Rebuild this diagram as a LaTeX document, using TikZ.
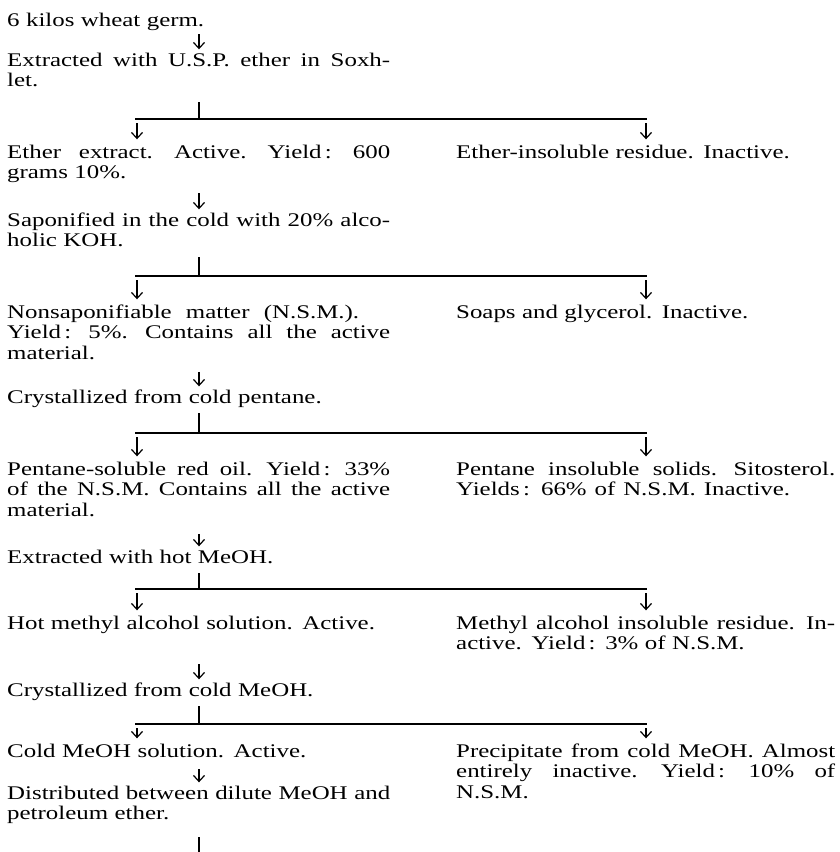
\documentclass[tikz,border=0pt]{standalone}
\usepackage{fontspec}
\setmainfont{Liberation Serif}[FakeStretch=1.29]
\usetikzlibrary{arrows.meta}

% full (justified) line of a column
\newcommand{\fl}[2][383pt]{\makebox[#1][s]{\spaceskip=.3333em plus 1fil
  \xspaceskip=.5em plus 1fil\relax #2}}

\tikzset{
  txt/.style  = {anchor=base west, inner sep=0pt, align=left,
                 execute at begin node=\strut, execute at end node=\strut},
  lcol/.style = {txt, text width=383pt},
  rcol/.style = {txt, text width=379pt},
  bar/.style  = {line width=1.2pt},
  tick/.style = {bar, shorten <=4pt},
  arr/.style  = {line width=1.2pt, -{Straight Barb[length=6pt,width=11pt]},
                 shorten <=8pt, shorten >=2pt},
  branch/.style = {arr, shorten <=4pt, shorten >=4pt},
}

\begin{document}
\begin{tikzpicture}[x=1pt, y=-1pt, font=\fontsize{19.3}{20.7}\selectfont]
  \useasboundingbox (0,0) rectangle (840,852);

  \coordinate (cx) at (199,0);
  \coordinate (lx) at (137,0);
  \coordinate (rx) at (646,0);

  % left column
  \node[lcol] (germ) at (7,26)  {\fl[194pt]{6 kilos wheat germ.}};
  \node[lcol] (ext)  at (7,66)  {\fl{Extracted with U.S.P. ether in Soxh-}\\let.};
  \node[lcol] (eth)  at (7,158) {\fl{Ether extract. Active. Yield\,: 600}\\grams 10\%.};
  \node[lcol] (sap)  at (7,226) {\fl{Saponified in the cold with 20\% alco-}\\holic KOH.};
  \node[lcol] (nsm)  at (7,318) {\fl[352pt]{Nonsaponifiable matter (N.S.M.).}\\
                                 \fl{Yield\,: 5\%. Contains all the active}\\material.};
  \node[lcol] (pent) at (7,403) {Crystallized from cold pentane.};
  \node[lcol] (red)  at (7,475) {\fl{Pentane-soluble red oil. Yield\,: 33\%}\\
                                 \fl{of the N.S.M. Contains all the active}\\material.};
  \node[lcol] (hot)  at (7,563) {Extracted with hot MeOH.};
  \node[lcol] (hsol) at (7,629) {Hot methyl alcohol solution. Active.};
  \node[lcol] (cold) at (7,696) {Crystallized from cold MeOH.};
  \node[lcol] (csol) at (7,757) {Cold MeOH solution. Active.};
  \node[lcol] (dist) at (7,799) {\fl{Distributed between dilute MeOH and}\\petroleum ether.};

  % right column
  \node[rcol] (insol) at (456,158) {Ether-insoluble residue. Inactive.};
  \node[rcol] (soap)  at (456,318) {Soaps and glycerol. Inactive.};
  \node[rcol] (sito)  at (456,475) {\fl[379pt]{Pentane insoluble solids. Sitosterol.}\\
                                    \fl[334pt]{Yields\,: 66\% of N.S.M. Inactive.}};
  \node[rcol] (mres)  at (456,629) {\fl[379pt]{Methyl alcohol insoluble residue. In-}\\
                                    active. Yield\,: 3\% of N.S.M.};
  \node[rcol] (prec)  at (456,757) {\fl[379pt]{Precipitate from cold MeOH. Almost}\\
                                    \fl[379pt]{entirely inactive. Yield\,: 10\% of}\\N.S.M.};

  % forks
  \coordinate (f1) at (199,119);
  \coordinate (f2) at (199,276);
  \coordinate (f3) at (199,433);
  \coordinate (f4) at (199,589);
  \coordinate (f5) at (199,724);
  \coordinate (cut) at (199,852);

  % straight arrows
  \draw[arr, shorten <=2pt] (germ.south -| cx) -- (ext.north -| cx);
  \draw[arr] (eth.south -| cx) -- (sap.north -| cx);
  \draw[arr, shorten <=6pt] (nsm.south -| cx) -- (pent.north -| cx);
  \draw[arr, shorten <=11pt] (red.south -| cx) -- (hot.north -| cx);
  \draw[arr, shorten <=29pt] (hsol.south -| cx) -- (cold.north -| cx);
  \draw[arr, shorten <=6pt] (csol.south -| cx) -- (dist.north -| cx);

  % ticks and bars
  \draw[tick, shorten <=9pt] (ext.south -| cx) -- (f1);
  \draw[tick] (sap.south -| cx) -- (f2);
  \draw[tick] (pent.south -| cx) -- (f3);
  \draw[tick] (hot.south -| cx) -- (f4);
  \draw[tick] (cold.south -| cx) -- (f5);
  \draw[tick, shorten <=11pt] (dist.south -| cx) -- (cut);
  \foreach \f in {f1,f2,f3,f4,f5}
    \draw[bar] ([xshift=-2pt]\f -| lx) -- ([xshift=1pt]\f -| rx);

  % branch arrows
  \draw[branch] (f1 -| lx) -- (eth.north -| lx);
  \draw[branch] (f1 -| rx) -- (insol.north -| rx);
  \draw[branch] (f2 -| lx) -- (nsm.north -| lx);
  \draw[branch] (f2 -| rx) -- (soap.north -| rx);
  \draw[branch] (f3 -| lx) -- (red.north -| lx);
  \draw[branch] (f3 -| rx) -- (sito.north -| rx);
  \draw[branch] (f4 -| lx) -- (hsol.north -| lx);
  \draw[branch] (f4 -| rx) -- (mres.north -| rx);
  \draw[branch] (f5 -| lx) -- (csol.north -| lx);
  \draw[branch] (f5 -| rx) -- (prec.north -| rx);
\end{tikzpicture}
\end{document}
